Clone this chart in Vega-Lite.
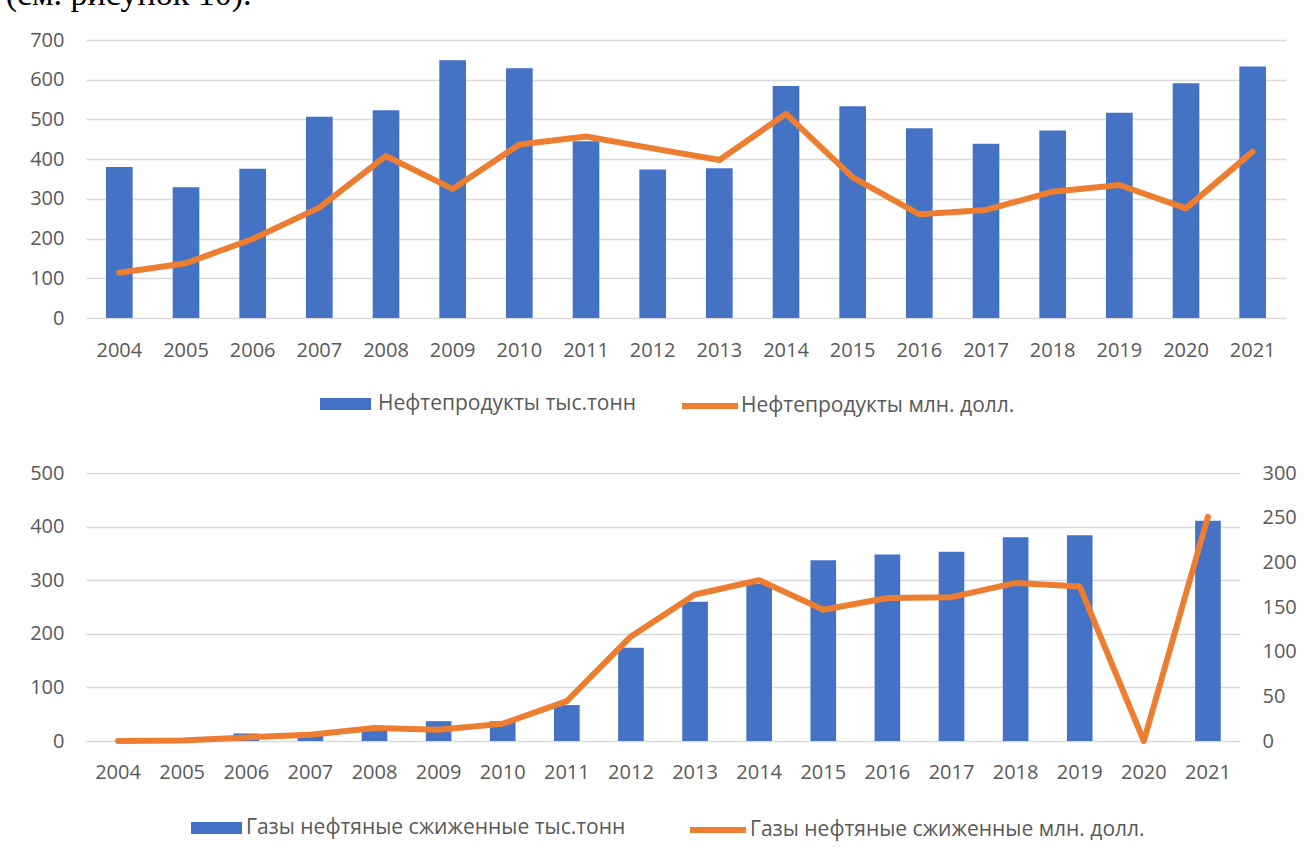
{
  "$schema": "https://vega.github.io/schema/vega-lite/v6.json",
  "padding": {"left": 5, "top": -22, "right": 0, "bottom": 0},
  "background": "white",
  "title": {
    "text": "(см. рисунок 10).",
    "anchor": "start",
    "frame": "bounds",
    "font": "Liberation Serif",
    "fontSize": 34,
    "fontWeight": "normal",
    "color": "#000000",
    "baseline": "alphabetic",
    "dx": -24,
    "offset": -9
  },
  "datasets": {
    "oil": [
      {"year": "2004", "tons": 380, "usd": 114},
      {"year": "2005", "tons": 329, "usd": 138},
      {"year": "2006", "tons": 376, "usd": 199},
      {"year": "2007", "tons": 507, "usd": 278},
      {"year": "2008", "tons": 523, "usd": 408},
      {"year": "2009", "tons": 649, "usd": 325},
      {"year": "2010", "tons": 629, "usd": 437},
      {"year": "2011", "tons": 445, "usd": 457},
      {"year": "2012", "tons": 374, "usd": 427},
      {"year": "2013", "tons": 377, "usd": 398},
      {"year": "2014", "tons": 584, "usd": 514},
      {"year": "2015", "tons": 533, "usd": 354},
      {"year": "2016", "tons": 478, "usd": 261},
      {"year": "2017", "tons": 439, "usd": 272},
      {"year": "2018", "tons": 472, "usd": 318},
      {"year": "2019", "tons": 517, "usd": 335},
      {"year": "2020", "tons": 591, "usd": 276},
      {"year": "2021", "tons": 633, "usd": 419}
    ],
    "gas": [
      {"year": "2004", "tons": 0, "usd": 0},
      {"year": "2005", "tons": 0, "usd": 0.5},
      {"year": "2006", "tons": 14, "usd": 4},
      {"year": "2007", "tons": 12, "usd": 7},
      {"year": "2008", "tons": 25, "usd": 14.5},
      {"year": "2009", "tons": 37, "usd": 12.7},
      {"year": "2010", "tons": 37, "usd": 19.4},
      {"year": "2011", "tons": 67, "usd": 44.7},
      {"year": "2012", "tons": 174, "usd": 117},
      {"year": "2013", "tons": 260, "usd": 164},
      {"year": "2014", "tons": 293, "usd": 180},
      {"year": "2015", "tons": 337, "usd": 147},
      {"year": "2016", "tons": 348, "usd": 160},
      {"year": "2017", "tons": 353, "usd": 161},
      {"year": "2018", "tons": 380, "usd": 177},
      {"year": "2019", "tons": 384, "usd": 173},
      {"year": "2020", "tons": 0, "usd": 0},
      {"year": "2021", "tons": 411, "usd": 251}
    ]
  },
  "spacing": 45,
  "resolve": {
    "scale": {"fill": "independent", "stroke": "independent"},
    "legend": {"fill": "independent", "stroke": "independent"}
  },
  "vconcat": [
    {
      "width": 1200,
      "height": 278,
      "data": {"name": "oil"},
      "encoding": {
        "x": {
          "field": "year",
          "type": "ordinal",
          "title": null,
          "scale": {"paddingInner": 0.6, "paddingOuter": 0.3},
          "axis": {"labelAngle": 0, "labelPadding": 22, "domain": false, "grid": false}
        }
      },
      "layer": [
        {
          "mark": {"type": "bar"},
          "encoding": {
            "y": {
              "field": "tons",
              "type": "quantitative",
              "title": null,
              "scale": {"domain": [0, 700]},
              "axis": {"values": [0, 100, 200, 300, 400, 500, 600, 700], "labelPadding": 22, "grid": true, "labelOverlap": false, "labelBound": false}
            },
            "fill": {
              "datum": "Нефтепродукты тыс.тонн",
              "type": "nominal",
              "scale": {"range": ["#4472C4"]},
              "legend": {
                "orient": "none",
                "legendX": 233,
                "legendY": 351,
                "symbolType": "M-1,-0.5H3.25V0.5H-1Z",
                "symbolSize": 576,
                "labelOffset": 33
              }
            }
          }
        },
        {
          "mark": {"type": "line", "strokeWidth": 6, "strokeJoin": "round", "strokeCap": "round"},
          "encoding": {
            "y": {
              "field": "usd",
              "type": "quantitative",
              "title": null,
              "axis": {"values": [0, 100, 200, 300, 400, 500, 600, 700], "labelPadding": 22, "grid": true, "labelOverlap": false, "labelBound": false}
            },
            "stroke": {
              "datum": "Нефтепродукты млн. долл.",
              "type": "nominal",
              "scale": {"range": ["#ED7D31"]},
              "legend": {
                "orient": "none",
                "legendX": 593,
                "legendY": 335,
                "symbolType": "stroke",
                "symbolSize": 3136,
                "symbolStrokeWidth": 6,
                "labelOffset": 0
              }
            }
          }
        }
      ]
    },
    {
      "width": 1154,
      "height": 268,
      "data": {"name": "gas"},
      "encoding": {
        "x": {
          "field": "year",
          "type": "ordinal",
          "title": null,
          "scale": {"paddingInner": 0.6, "paddingOuter": 0.3},
          "axis": {"labelAngle": 0, "labelPadding": 21, "domain": false, "grid": false}
        }
      },
      "layer": [
        {
          "mark": {"type": "bar"},
          "encoding": {
            "y": {
              "field": "tons",
              "type": "quantitative",
              "title": null,
              "scale": {"domain": [0, 500]},
              "axis": {"orient": "left", "values": [0, 100, 200, 300, 400, 500], "labelPadding": 22, "grid": true, "labelOverlap": false}
            },
            "fill": {
              "datum": "Газы нефтяные сжиженные тыс.тонн",
              "type": "nominal",
              "scale": {"range": ["#4472C4"]},
              "legend": {
                "orient": "none",
                "legendX": 104,
                "legendY": 342,
                "symbolType": "M-1,-0.5H3.25V0.5H-1Z",
                "symbolSize": 576,
                "labelOffset": 30
              }
            }
          }
        },
        {
          "mark": {"type": "line", "strokeWidth": 6, "strokeJoin": "round", "strokeCap": "round"},
          "encoding": {
            "y": {
              "field": "usd",
              "type": "quantitative",
              "title": null,
              "scale": {"domain": [0, 300]},
              "axis": {"orient": "right", "values": [0, 50, 100, 150, 200, 250, 300], "labelPadding": 22, "grid": false, "labelAlign": "left", "labelOverlap": false}
            },
            "stroke": {
              "datum": "Газы нефтяные сжиженные млн. долл.",
              "type": "nominal",
              "scale": {"range": ["#ED7D31"]},
              "legend": {
                "orient": "none",
                "legendX": 601,
                "legendY": 326,
                "symbolType": "stroke",
                "symbolSize": 3136,
                "symbolStrokeWidth": 6,
                "labelOffset": 1
              }
            }
          }
        }
      ],
      "resolve": {"scale": {"y": "independent"}}
    }
  ],
  "config": {
    "view": {"stroke": null},
    "font": "Open Sans",
    "axis": {
      "labelFont": "Open Sans",
      "labelFontSize": 20,
      "labelColor": "#595959",
      "labelOverlap": false,
      "ticks": false,
      "tickSize": 0,
      "domain": false,
      "gridColor": "#D9D9D9",
      "gridWidth": 1.5,
      "gridOpacity": 1
    },
    "legend": {
      "title": null,
      "padding": 0,
      "symbolOffset": 0,
      "labelFont": "Open Sans",
      "labelFontSize": 21,
      "labelColor": "#595959",
      "labelLimit": 0,
      "symbolOpacity": 1
    }
  }
}
